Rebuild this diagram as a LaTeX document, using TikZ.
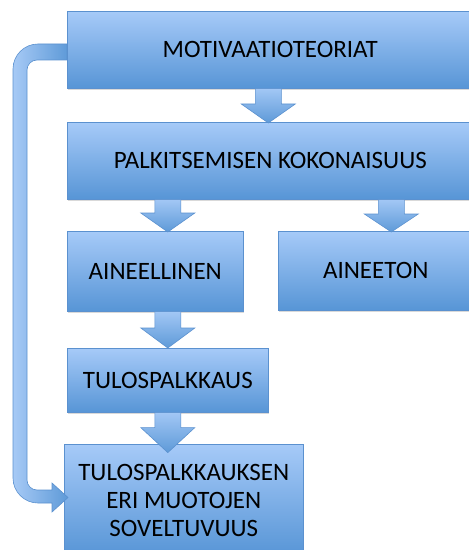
\documentclass[tikz,border=0pt]{standalone}
\usepackage{fontspec}
\setmainfont{Carlito}
\usetikzlibrary{calc,shadows}
\definecolor{boxtop}{HTML}{A6CAF8}
\definecolor{boxbot}{HTML}{5795D6}
\definecolor{edgeblue}{HTML}{5B91CF}
\definecolor{arrtop}{HTML}{A2C7F5}
\definecolor{arrbot}{HTML}{5E9AD8}
\newcommand{\blockar}[3]{% #1 start, #2 tip, #3 head length
  \path[arrowfill] ($(#1)+(-13,0)$) -- ($(#1)+(13,0)$) -- ($(#2)+(13,#3)$) -- ($(#2)+(27,#3)$) -- (#2) -- ($(#2)+(-27,#3)$) -- ($(#2)+(-13,#3)$) -- cycle;}
\begin{document}
\begin{tikzpicture}[x=1bp,y=1bp,
  box/.style={draw=edgeblue, line width=0.6bp, top color=boxtop, bottom color=boxbot,
    anchor=north west, inner sep=0pt, align=center,
    font=\fontsize{25bp}{28bp}\selectfont, text=black,
    drop shadow={shadow xshift=1bp, shadow yshift=-2bp, opacity=0.25, fill=black!60}},
  arrowfill/.style={draw=edgeblue, line width=0.6bp, top color=arrtop, bottom color=arrbot}]
\useasboundingbox (0,0) rectangle (469,-550);
\clip (0,0) rectangle (469,-550);
\node[box, minimum width=406bp, minimum height=77bp] (mot) at (67,-11) {MOTIVAATIOTEORIAT};
\node[box, minimum width=406bp, minimum height=77bp] (pal) at (67,-122) {PALKITSEMISEN KOKONAISUUS};
\node[box, minimum width=176bp, minimum height=80bp] (ain) at (67,-231) {AINEELLINEN};
\node[box, minimum width=195bp, minimum height=79bp] (aint) at (278,-231) {AINEETON};
\node[box, minimum width=201bp, minimum height=64bp] (tulo) at (67,-348) {TULOSPALKKAUS};
\node[box, minimum width=239bp, minimum height=112bp] (sov) at (64,-444) {TULOSPALKKAUKSEN\\ERI MUOTOJEN\\SOVELTUVUUS};
% arrow anchor points
\coordinate (a1s) at ($(mot.south)+(-2,0)$);
\coordinate (a1e) at ($(pal.north)+(-2,-1)$);
\coordinate (a2s) at (tulo.north |- pal.south);
\coordinate (a2e) at ($(tulo.north |- ain.north)+(0,-1)$);
\coordinate (a3s) at ($(aint.north)+(15.5,0)$);
\coordinate (a3t) at (a3s |- pal.south);
\coordinate (a3e) at ($(a3s)+(0,-1)$);
\coordinate (a4s) at (tulo.north |- ain.south);
\coordinate (a4e) at (tulo.north);
\coordinate (a5s) at (tulo.south);
\coordinate (a5e) at ($(tulo.south)+(0,-40)$);
\blockar{a1s}{a1e}{19}
\blockar{a2s}{a2e}{19}
\blockar{a3t}{a3e}{18}
\blockar{a4s}{a4e}{20}
\blockar{a5s}{a5e}{25}
% bent feedback arrow from MOTIVAATIOTEORIAT to the bottom box
\path[draw=edgeblue, line width=0.6bp, left color=arrtop!95!white, right color=arrbot]
  (67,-44) -- (38,-44) arc[start angle=90, end angle=180, radius=25]
  -- (13,-478) arc[start angle=180, end angle=270, radius=25]
  -- (52,-503) -- (52,-512) -- (68,-497.5) -- (52,-483) -- (52,-490)
  -- (37,-490) arc[start angle=270, end angle=180, radius=10]
  -- (27,-70) arc[start angle=180, end angle=90, radius=10]
  -- (67,-60) -- cycle;
\end{tikzpicture}
\end{document}
